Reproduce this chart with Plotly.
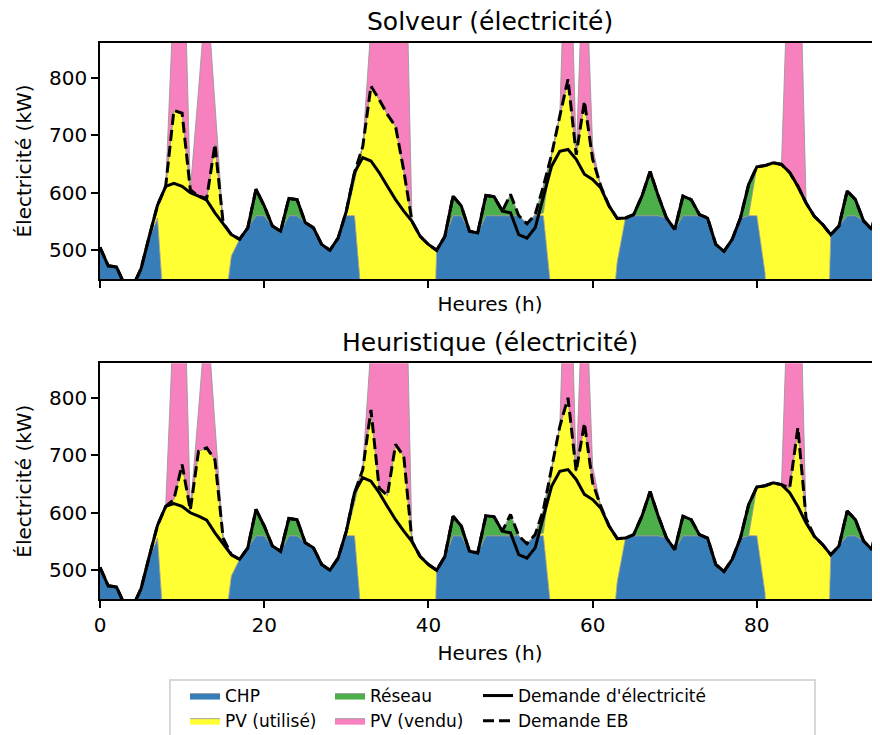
import plotly.graph_objects as go

hours = list(range(96))

demand = [505, 473, 471, 440, 437, 468, 524, 578, 611, 616,
          611, 600, 594, 587, 565, 545, 527, 519, 539, 606,
          577, 542, 533, 590, 588, 548, 539, 510, 500, 521,
          568, 635, 661, 655, 635, 611, 588, 568, 550, 524,
          510, 500, 524, 594, 577, 533, 530, 595, 593, 568,
          565, 527, 521, 539, 594, 646, 672, 675, 658, 632,
          623, 608, 577, 555, 556, 562, 594, 637, 594, 556,
          536, 594, 588, 562, 556, 510, 498, 519, 556, 614,
          645, 647, 652, 649, 635, 611, 582, 559, 545, 527,
          542, 603, 588, 551, 536, 604]

eb_sol = [505, 473, 471, 440, 437, 468, 524, 578, 611, 743,
          738, 605, 594, 590, 684, 547, 527, 519, 539, 606,
          577, 542, 533, 590, 588, 548, 539, 510, 500, 521,
          568, 635, 680, 785, 762, 736, 715, 638, 550, 524,
          510, 500, 524, 594, 577, 533, 530, 595, 593, 568,
          597, 560, 546, 562, 611, 666, 733, 797, 666, 759,
          658, 611, 577, 555, 556, 562, 594, 637, 594, 556,
          536, 594, 588, 562, 556, 510, 498, 519, 556, 614,
          645, 647, 652, 649, 635, 611, 582, 559, 545, 527,
          542, 603, 588, 551, 536, 604]

eb_heu = [505, 473, 471, 440, 437, 468, 524, 578, 611, 623,
          684, 605, 707, 713, 692, 556, 527, 519, 539, 606,
          577, 542, 533, 590, 588, 548, 539, 510, 500, 521,
          568, 635, 675, 779, 643, 630, 719, 698, 550, 524,
          510, 500, 524, 594, 577, 533, 530, 595, 593, 568,
          597, 560, 546, 562, 605, 675, 750, 800, 672, 756,
          652, 611, 577, 555, 556, 562, 594, 637, 594, 556,
          536, 594, 588, 562, 556, 510, 498, 519, 556, 614,
          645, 647, 652, 649, 643, 748, 590, 559, 545, 527,
          542, 603, 588, 551, 536, 604]

chp = [505, 473, 471, 440, 437, 468, 520, 556, 350, 0,
       0, 0, 0, 0, 0, 380, 490, 519, 539, 560,
       560, 542, 533, 560, 560, 548, 539, 510, 500, 521,
       560, 560, 390, 0, 0, 0, 0, 0, 0, 0,
       0, 500, 524, 560, 560, 533, 530, 560, 560, 560,
       560, 560, 546, 560, 560, 420, 0, 0, 0, 0,
       0, 0, 330, 480, 556, 560, 560, 560, 560, 556,
       536, 560, 560, 560, 556, 510, 498, 519, 556, 560,
       560, 460, 0, 0, 0, 0, 0, 0, 0, 527,
       542, 560, 560, 551, 536, 560]

pv_sol = [0, 0, 0, 0, 0, 0, 4, 22, 261, 743,
          738, 605, 594, 590, 684, 167, 37, 0, 0, 0,
          0, 0, 0, 0, 0, 0, 0, 0, 0, 0,
          0, 60, 290, 785, 762, 736, 715, 638, 550, 524,
          510, 0, 0, 0, 0, 0, 0, 0, 0, 0,
          0, 0, 0, 0, 5, 246, 733, 797, 666, 759,
          658, 611, 247, 75, 0, 0, 0, 0, 0, 0,
          0, 0, 0, 0, 0, 0, 0, 0, 0, 0,
          85, 187, 652, 649, 635, 611, 582, 559, 545, 0,
          0, 0, 0, 0, 0, 0]

pv_heu = [0, 0, 0, 0, 0, 0, 4, 22, 261, 623,
          684, 605, 707, 713, 692, 176, 37, 0, 0, 0,
          0, 0, 0, 0, 0, 0, 0, 0, 0, 0,
          0, 60, 285, 779, 643, 630, 719, 698, 550, 524,
          510, 0, 0, 0, 0, 0, 0, 0, 0, 0,
          0, 0, 0, 0, 5, 255, 750, 800, 672, 756,
          652, 611, 247, 75, 0, 0, 0, 0, 0, 0,
          0, 0, 0, 0, 0, 0, 0, 0, 0, 0,
          85, 187, 652, 649, 643, 748, 590, 559, 545, 0,
          0, 0, 0, 0, 0, 0]

grid_sol = [0, 0, 0, 0, 0, 0, 0, 0, 0, 0,
            0, 0, 0, 0, 0, 0, 0, 0, 0, 46,
            17, 0, 0, 30, 28, 0, 0, 0, 0, 0,
            8, 15, 0, 0, 0, 0, 0, 0, 0, 0,
            0, 0, 0, 34, 17, 0, 0, 35, 33, 8,
            37, 0, 0, 2, 46, 0, 0, 0, 0, 0,
            0, 0, 0, 0, 0, 2, 34, 77, 34, 0,
            0, 34, 28, 2, 0, 0, 0, 0, 0, 54,
            0, 0, 0, 0, 0, 0, 0, 0, 0, 0,
            0, 43, 28, 0, 0, 44]

grid_heu = [0, 0, 0, 0, 0, 0, 0, 0, 0, 0,
            0, 0, 0, 0, 0, 0, 0, 0, 0, 46,
            17, 0, 0, 30, 28, 0, 0, 0, 0, 0,
            8, 15, 0, 0, 0, 0, 0, 0, 0, 0,
            0, 0, 0, 34, 17, 0, 0, 35, 33, 8,
            37, 0, 0, 2, 40, 0, 0, 0, 0, 0,
            0, 0, 0, 0, 0, 2, 34, 77, 34, 0,
            0, 34, 28, 2, 0, 0, 0, 0, 0, 54,
            0, 0, 0, 0, 0, 0, 0, 0, 0, 0,
            0, 43, 28, 0, 0, 44]

sold_sol = [0, 0, 0, 0, 0, 0, 0, 0, 0, 207,
            412, 0, 184, 370, 70, 0, 0, 0, 0, 0,
            0, 0, 0, 0, 0, 0, 0, 0, 0, 0,
            0, 0, 0, 175, 338, 464, 535, 562, 0, 0,
            0, 0, 0, 0, 0, 0, 0, 0, 0, 0,
            0, 0, 0, 0, 0, 0, 0, 403, 0, 311,
            22, 0, 0, 0, 0, 0, 0, 0, 0, 0,
            0, 0, 0, 0, 0, 0, 0, 0, 0, 0,
            0, 0, 0, 0, 445, 549, 0, 0, 0, 0,
            0, 0, 0, 0, 0, 0]

sold_heu = [0, 0, 0, 0, 0, 0, 0, 0, 0, 327,
            466, 0, 71, 247, 62, 0, 0, 0, 0, 0,
            0, 0, 0, 0, 0, 0, 0, 0, 0, 0,
            0, 0, 5, 181, 457, 570, 531, 502, 0, 0,
            0, 0, 0, 0, 0, 0, 0, 0, 0, 0,
            0, 0, 0, 0, 0, 0, 0, 400, 0, 314,
            28, 0, 0, 0, 0, 0, 0, 0, 0, 0,
            0, 0, 0, 0, 0, 0, 0, 0, 0, 0,
            0, 0, 0, 0, 437, 412, 0, 0, 0, 0,
            0, 0, 0, 0, 0, 0]

titles = ["Solveur (électricité)", "Heuristique (électricité)"]
area_names = ["CHP", "PV (utilisé)", "Réseau", "PV (vendu)"]
area_colors = ["#377eb8", "#ffff33", "#4daf4a", "#f781bf"]
area_legends = ["legend", "legend", "legend2", "legend2"]
line_names = ["Demande d'électricité", "Demande EB"]

FONT = "DejaVu Sans"
edge = "rgba(150,150,150,0.85)"

fig = go.Figure()

panels = [
    ("x", "y", [chp, pv_sol, grid_sol, sold_sol], eb_sol, "s1", True),
    ("x2", "y2", [chp, pv_heu, grid_heu, sold_heu], eb_heu, "s2", False),
]

for xa, ya, series, eb, sg, show in panels:
    for name, vals, col, lg in zip(area_names, series, area_colors, area_legends):
        fig.add_trace(go.Scatter(
            x=hours, y=vals, name=name, stackgroup=sg, mode="lines",
            line=dict(color=edge, width=1), fillcolor=col,
            xaxis=xa, yaxis=ya, showlegend=show, legend=lg,
            hoverinfo="skip"))
    fig.add_trace(go.Scatter(
        x=hours, y=eb, name=line_names[1], mode="lines",
        line=dict(color="black", width=3, dash="11px,5px"),
        xaxis=xa, yaxis=ya, showlegend=show, legend="legend3",
        legendrank=2))
    fig.add_trace(go.Scatter(
        x=hours, y=demand, name=line_names[0], mode="lines",
        line=dict(color="black", width=3),
        xaxis=xa, yaxis=ya, showlegend=show, legend="legend3",
        legendrank=1))

axis_common = dict(showline=True, mirror=True, linecolor="black", linewidth=1.6,
                   ticks="outside", ticklen=7, tickwidth=1.6, tickcolor="black",
                   showgrid=False, zeroline=False, automargin=False,
                   tickfont=dict(family=FONT, size=20, color="black"))

# the page body adds an 8px offset, so figure coords = screen coords - 8
OFF = 8
H = 735
W = 880
top_px, bot_px = 43, 599          # screen coordinates of plot area
left_px, right_px = 100, 880
area_h = bot_px - top_px
area_w = right_px - left_px

def py(px):
    return (bot_px - px) / area_h

def px_x(px):
    return (px - left_px) / area_w

leg_common = dict(yanchor="top", xanchor="left", y=py(678),
                  font=dict(family=FONT, size=17), bgcolor="rgba(0,0,0,0)",
                  traceorder="normal", tracegroupgap=0, itemwidth=30)

fig.update_layout(
    width=W, height=H,
    margin=dict(l=left_px - OFF, r=W - (right_px - OFF), t=top_px - OFF,
                b=H - (bot_px - OFF), autoexpand=False),
    paper_bgcolor="white", plot_bgcolor="white",
    font=dict(family=FONT, size=20, color="black"),
    xaxis=dict(domain=[0, 1], anchor="y", range=[0, 95], tickvals=[0, 20, 40, 60, 80],
               showticklabels=False,
               title=dict(text="Heures (h)", font=dict(size=20), standoff=10),
               **axis_common),
    yaxis=dict(domain=[py(279), 1], anchor="x", range=[450, 860],
               tickvals=[500, 600, 700, 800],
               title=dict(text="Électricité (kW)", font=dict(size=20), standoff=12),
               **axis_common),
    xaxis2=dict(domain=[0, 1], anchor="y2", range=[0, 95], tickvals=[0, 20, 40, 60, 80],
                title=dict(text="Heures (h)", font=dict(size=20), standoff=10),
                **axis_common),
    yaxis2=dict(domain=[0, py(363.3)], anchor="x2", range=[450, 860],
                tickvals=[500, 600, 700, 800],
                title=dict(text="Électricité (kW)", font=dict(size=20), standoff=12),
                **axis_common),
    legend=dict(x=px_x(185), **leg_common),
    legend2=dict(x=px_x(330), **leg_common),
    legend3=dict(x=px_x(478), **leg_common),
    annotations=[
        dict(text=titles[0], x=0.5, y=py(21), xref="paper", yref="paper",
             xanchor="center", yanchor="middle", showarrow=False,
             font=dict(family=FONT, size=25)),
        dict(text=titles[1], x=0.5, y=py(342), xref="paper", yref="paper",
             xanchor="center", yanchor="middle", showarrow=False,
             font=dict(family=FONT, size=25)),
    ],
    shapes=[dict(type="rect", xref="paper", yref="paper",
                 x0=px_x(170), x1=px_x(815),
                 y0=py(680), y1=py(745),
                 line=dict(color="#cccccc", width=1.5), fillcolor="white",
                 layer="below")],
)

fig.write_html("out.html")
